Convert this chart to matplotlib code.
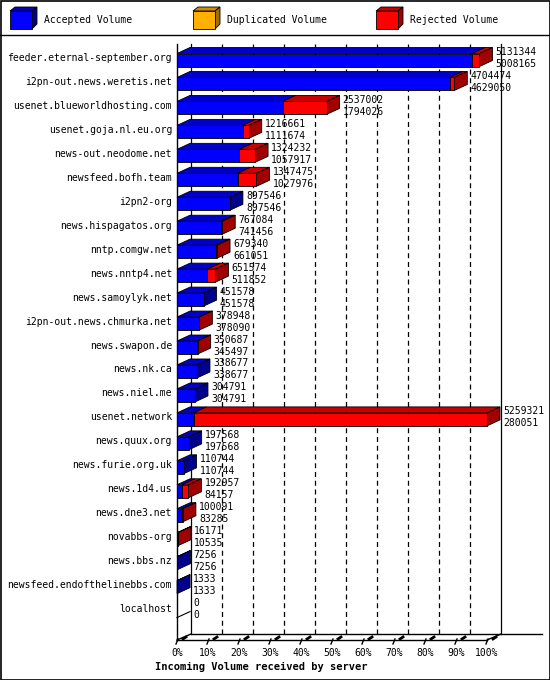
import matplotlib.pyplot as plt
from matplotlib.patches import Polygon, Rectangle

servers = ["feeder.eternal-september.org", "i2pn-out.news.weretis.net", "usenet.blueworldhosting.com",
           "usenet.goja.nl.eu.org", "news-out.neodome.net", "newsfeed.bofh.team", "i2pn2-org",
           "news.hispagatos.org", "nntp.comgw.net", "news.nntp4.net", "news.samoylyk.net",
           "i2pn-out.news.chmurka.net", "news.swapon.de", "news.nk.ca", "news.niel.me", "usenet.network",
           "news.quux.org", "news.furie.org.uk", "news.1d4.us", "news.dne3.net", "novabbs-org",
           "news.bbs.nz", "newsfeed.endofthelinebbs.com", "localhost"]
offered = [5131344, 4704474, 2537002, 1216661, 1324232, 1347475, 897546, 767084, 679340, 651574,
           451578, 378948, 350687, 338677, 304791, 5259321, 197568, 110744, 192957, 100091, 16171,
           7256, 1333, 0]
accepted = [5008165, 4629050, 1794026, 1111674, 1057917, 1027976, 897546, 741456, 661051, 511852,
            451578, 378090, 345497, 338677, 304791, 280051, 197568, 110744, 84157, 83285, 10535,
            7256, 1333, 0]
pct_labels = ["%d%%" % p for p in range(0, 101, 10)]

W, H = 550, 680
X0, XW = 177, 310          # front 0% and width of 100%
Y0, ROW = 58, 23.96        # first row centre, row pitch
BH = 13                    # bar front height
DX, DY = 13, 6             # depth offset
vmax = max(offered)
mono = "DejaVu Sans Mono"
FS = 7.0

BLUE, BLUE_T, BLUE_S = "#0000ff", "#0000c8", "#00008c"
RED, RED_T, RED_S = "#ff0000", "#c80000", "#a00000"
ORANGE, ORANGE_T, ORANGE_S = "#ffb000", "#d08c00", "#a07000"

fig = plt.figure(figsize=(W / 100, H / 100), dpi=100)
ax = fig.add_axes([0, 0, 1, 1])
ax.set_xlim(0, W)
ax.set_ylim(H, 0)
ax.axis("off")


def px(v):
    return X0 + v / vmax * XW


def box3d(x1, x2, ytop, h, front, top, side, draw_side=True):
    ax.add_patch(Polygon([(x1, ytop), (x1 + DX, ytop - DY), (x2 + DX, ytop - DY), (x2, ytop)],
                         closed=True, fc=top, ec="black", lw=0.6, zorder=3))
    if draw_side:
        ax.add_patch(Polygon([(x2, ytop), (x2 + DX, ytop - DY), (x2 + DX, ytop + h - DY), (x2, ytop + h)],
                             closed=True, fc=side, ec="black", lw=0.6, zorder=3))
    ax.add_patch(Rectangle((x1, ytop), x2 - x1, h, fc=front, ec="black", lw=0.6, zorder=4))


# frame and legend
ax.add_patch(Rectangle((0.5, 0.5), W - 1, H - 1, fill=False, ec="black", lw=1.2))
ax.plot([0, W], [35, 35], color="black", lw=1)
legend = [("Accepted Volume", 10, BLUE, BLUE_T, BLUE_S),
          ("Duplicated Volume", 193, ORANGE, ORANGE_T, ORANGE_S),
          ("Rejected Volume", 376, RED, RED_T, RED_S)]
for text, lx, f, t, s in legend:
    ax.add_patch(Polygon([(lx, 11), (lx + 5, 7), (lx + 27, 7), (lx + 22, 11)], fc=t, ec="black", lw=0.6))
    ax.add_patch(Polygon([(lx + 22, 11), (lx + 27, 7), (lx + 27, 24), (lx + 22, 29)], fc=s, ec="black", lw=0.6))
    ax.add_patch(Rectangle((lx, 11), 22, 18, fc=f, ec="black", lw=0.6))
    ax.text(lx + 34, 20, text, fontsize=FS, family=mono, va="center")

# floor and axes
ybot = 640
yback = ybot - DY
ax.plot([X0, X0 + DX + 1], [ybot, yback], color="black", lw=1)
ax.plot([X0, X0 + XW], [ybot, ybot], color="black", lw=1)
ax.plot([X0 + DX + 1, 542], [yback, yback], color="black", lw=1)
ax.plot([X0 + XW, X0 + XW + DX + 1], [ybot, yback], color="black", lw=1)
ax.plot([X0, X0], [44, ybot], color="black", lw=1)
for i, lab in enumerate(pct_labels):
    fx = X0 + i * XW / 10
    bx = X0 + DX + 1 + i * XW / 10
    if 0 < i < 10:
        ax.plot([bx, bx], [yback, 44], color="black", lw=0.9, ls=(0, (4, 3)), zorder=1)
    else:
        ax.plot([bx, bx], [yback, 44], color="black", lw=0.9, zorder=1)
    ax.plot([fx - 1, fx + 1], [ybot + 4, ybot - 1], color="black", lw=1)
    ax.plot([fx + 6, fx + 9], [ybot - 1, ybot - 3], color="black", lw=2)
    ax.text(fx, 653, lab, fontsize=FS, family=mono, ha="center", va="center")
ax.text(155, 667, "Incoming Volume received by server", fontsize=7.5, family=mono,
        weight="bold", va="center")

# bars
for i, name in enumerate(servers):
    yc = Y0 + i * ROW
    ytop = yc - BH / 2 + 2
    xa, xo = px(accepted[i]), px(offered[i])
    if offered[i] > 0:
        rej = offered[i] > accepted[i]
        box3d(X0, xa, ytop, BH, BLUE, BLUE_T, BLUE_S, draw_side=not rej)
        if rej:
            box3d(xa, xo, ytop, BH, RED, RED_T, RED_S)
    else:
        ax.plot([X0, X0 + DX], [ytop + BH, ytop + BH - DY], color="black", lw=0.8)
    ax.text(172, yc, name, fontsize=FS, family=mono, ha="right", va="center")
    ax.text(xo + DX + 3, yc - 6, str(offered[i]), fontsize=FS, family=mono, va="center")
    ax.text(xo + DX + 3, yc + 6, str(accepted[i]), fontsize=FS, family=mono, va="center")

fig.savefig("out.png", dpi=100)
